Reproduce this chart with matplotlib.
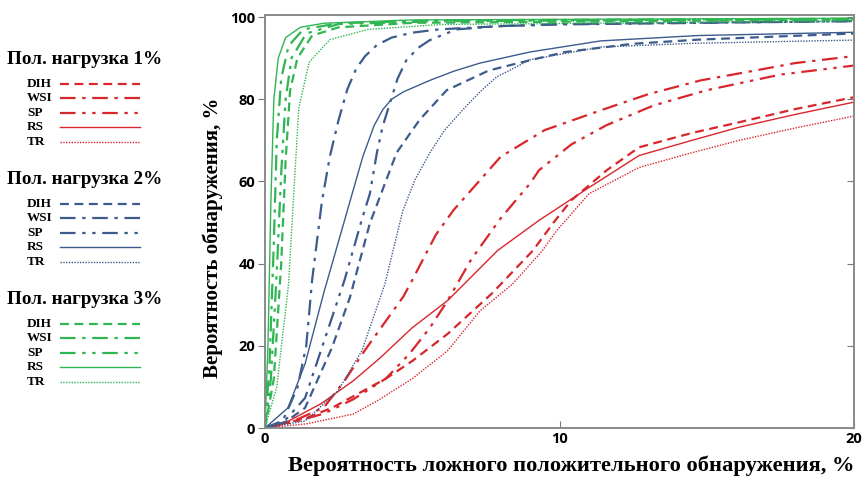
import matplotlib.pyplot as plt
from matplotlib.lines import Line2D

# x - false positive rate, %; y - detection rate, %
# load 1% (red)
r_dih_x = [0, 1.4, 2.3, 4.1, 5.0, 6.2, 7.7, 9.1, 9.8, 10.4, 11.6, 12.7, 14.5, 16.1, 18, 20]
r_dih_y = [0, 2.4, 5.0, 12.0, 16.3, 22.9, 32.7, 43.2, 50, 55.4, 62.7, 68.3, 71.8, 74.4, 77.6, 80.5]
r_wsi_x = [0, 1.0, 2.0, 2.7, 3.4, 4.1, 4.7, 5.0, 5.8, 6.4, 8.0, 9.5, 11.4, 13, 14.8, 16.5, 18, 20]
r_wsi_y = [0, 1.8, 5.0, 11.5, 19.0, 26.0, 32.0, 36.0, 47.0, 53.0, 66.0, 72.5, 77.3, 81.2, 84.6, 86.8, 88.8, 90.5]
r_sp_x = [0, 1.0, 2.0, 3.0, 4.1, 4.9, 5.6, 6.2, 7.0, 8.0, 9.0, 9.3, 10.4, 11.6, 13.2, 15, 17.5, 20]
r_sp_y = [0, 1.5, 3.5, 7.0, 12.0, 18.0, 24.4, 31.0, 41.0, 51, 59.5, 62.7, 69, 73.7, 78.5, 82.2, 86.0, 88.2]
r_rs_x = [0, 0.8, 1.9, 3.0, 3.9, 5.0, 6.2, 7.9, 9.3, 11.0, 12.7, 14.5, 16.1, 18, 20]
r_rs_y = [0, 1.7, 5.9, 11.5, 17.0, 24.4, 31.0, 43.2, 50.5, 58.5, 66.3, 70, 73.2, 76.3, 79.3]
r_tr_x = [0, 1.4, 3.0, 3.9, 5.0, 6.2, 7.3, 8.4, 9.4, 9.9, 11.0, 12.7, 14.5, 16.1, 18, 20]
r_tr_y = [0, 1.0, 3.4, 7.0, 12.0, 18.8, 28.5, 35.0, 43.0, 48, 57.0, 63.4, 67, 70.0, 73, 75.9]

# load 2% (blue)
b_dih_x = [0, 0.7, 1.36, 2.27, 2.88, 3.56, 4.47, 5.25, 6.17, 7.6, 9.0, 10.2, 12.5, 14.7, 20]
b_dih_y = [0, 1.5, 4.9, 19.5, 31.7, 49.8, 67.0, 75.0, 82.2, 87.0, 89.5, 91.5, 93.5, 94.5, 96.0]
b_wsi_x = [0, 0.6, 1.1, 1.4, 1.6, 1.93, 2.2, 2.5, 2.8, 3.1, 3.4, 3.8, 4.3, 5.0, 5.9, 8, 10, 20]
b_wsi_y = [0, 1.7, 9.8, 20.0, 36.0, 55.0, 66.0, 75.0, 82.5, 87.5, 90.5, 93.2, 95.0, 96.2, 97.0, 97.8, 98.2, 99.0]
b_sp_x = [0, 0.7, 1.36, 1.93, 2.7, 3.3, 3.56, 3.8, 4.0, 4.24, 4.5, 4.8, 5.2, 5.6, 6.5, 8, 10, 20]
b_sp_y = [0, 2.0, 7.3, 19.5, 36.0, 51.0, 57.0, 67.0, 73.5, 79.0, 85.0, 89.5, 92.5, 94.4, 97.0, 97.8, 98.3, 99.0]
b_rs_x = [0, 0.78, 1.36, 2.0, 2.6, 3.32, 3.7, 4.0, 4.3, 4.7, 5.6, 6.4, 7.3, 9.0, 11.4, 14.7, 20]
b_rs_y = [0, 4.9, 15.6, 33.0, 48.0, 66.0, 73.5, 77.5, 80.0, 81.8, 84.6, 86.8, 88.8, 91.5, 94.2, 95.5, 96.3]
b_tr_x = [0, 1.36, 2.47, 3.29, 4.07, 4.68, 5.1, 5.6, 6.1, 6.7, 7.3, 7.86, 9.0, 11.4, 14.5, 20]
b_tr_y = [0, 1.7, 9.0, 18.8, 35.0, 52.9, 60.5, 67.0, 72.5, 77.3, 81.8, 85.4, 89.6, 92.7, 93.6, 94.4]

# load 3% (green)
g_dih_x = [0, 0.3, 0.55, 0.7, 0.85, 1.1, 1.6, 2.5, 5, 20]
g_dih_y = [0, 12, 40, 65, 82, 90, 95.5, 97.5, 98.6, 99.4]
g_wsi_x = [0, 0.15, 0.3, 0.4, 0.55, 0.8, 1.3, 2.5, 6, 20]
g_wsi_y = [0, 15, 45, 70, 85, 93, 97, 98.5, 99.2, 99.6]
g_sp_x = [0, 0.2, 0.4, 0.55, 0.7, 0.9, 1.4, 2.5, 6, 20]
g_sp_y = [0, 12, 38, 62, 80, 90, 96, 98.3, 99, 99.5]
g_rs_x = [0, 0.1, 0.2, 0.3, 0.45, 0.7, 1.2, 2, 5, 20]
g_rs_y = [0, 20, 55, 80, 90, 95, 97.5, 98.5, 99.3, 99.7]
g_tr_x = [0, 0.4, 0.8, 1.0, 1.15, 1.5, 2.2, 3.5, 6, 20]
g_tr_y = [0, 10, 35, 60, 78, 89, 94.5, 97, 98.2, 99]

names = ['DIH', 'WSI', 'SP', 'RS', 'TR']
titles = ['Пол. нагрузка 1%', 'Пол. нагрузка 2%', 'Пол. нагрузка 3%']
colors = ['#d8262c', '#3d5b8c', '#2fb552']

styles = {
    'DIH': dict(ls=(0, (4, 2.5)), lw=1.6),
    'WSI': dict(ls=(0, (7, 3, 1.5, 3)), lw=1.6),
    'SP': dict(ls=(0, (7, 3, 1.5, 3, 1.5, 3)), lw=1.6),
    'RS': dict(ls='-', lw=1.0),
    'TR': dict(ls=(0, (1, 1)), lw=1.0),
}

groups = [
    [(r_dih_x, r_dih_y), (r_wsi_x, r_wsi_y), (r_sp_x, r_sp_y), (r_rs_x, r_rs_y), (r_tr_x, r_tr_y)],
    [(b_dih_x, b_dih_y), (b_wsi_x, b_wsi_y), (b_sp_x, b_sp_y), (b_rs_x, b_rs_y), (b_tr_x, b_tr_y)],
    [(g_dih_x, g_dih_y), (g_wsi_x, g_wsi_y), (g_sp_x, g_sp_y), (g_rs_x, g_rs_y), (g_tr_x, g_tr_y)],
]

W, H = 863, 478
fig = plt.figure(figsize=(W / 100, H / 100), dpi=100)
ax = fig.add_axes([265 / W, 1 - 428 / H, 589 / W, 413 / H])

for color, series in zip(colors, groups):
    for name, (x, y) in zip(names, series):
        ax.plot(x, y, color=color, **styles[name])

ax.set_xlim(0, 20)
ax.set_ylim(0, 100.5)
ax.set_xticks([0, 10, 20])
ax.set_yticks([0, 20, 40, 60, 80, 100])
for s in ax.spines.values():
    s.set_color('#8a8a8a')
    s.set_linewidth(1.4)
ax.tick_params(axis='x', direction='in', length=5, color='#777777', pad=3)
ax.tick_params(axis='y', direction='out', length=5, color='#777777', pad=2)
right = ax.secondary_yaxis('right')
right.set_yticks([0, 20, 40, 60, 80, 100])
right.tick_params(direction='in', length=5, color='#777777', labelright=False)
right.spines['right'].set_visible(False)
for lab in ax.get_xticklabels() + ax.get_yticklabels():
    lab.set_fontfamily('Open Sans')
    lab.set_fontweight('bold')
    lab.set_fontsize(10.5)

serif = 'Liberation Serif'
ax.set_xlabel('Вероятность ложного положительного обнаружения, %',
              fontfamily=serif, fontweight='bold', fontsize=16.2)
ax.xaxis.set_label_coords(0.52, -0.066)
ax.set_ylabel('Вероятность обнаружения, %', fontfamily=serif, fontweight='bold', fontsize=15)
ax.yaxis.set_label_coords(-0.072, 0.46)

# legend drawn by hand on the left
for g, (title, color) in enumerate(zip(titles, colors)):
    ty = 60 + g * 120
    fig.text(85 / W, 1 - ty / H, title, ha='center', va='center',
             fontfamily=serif, fontweight='bold', fontsize=13.8)
    for i, name in enumerate(names):
        ry = ty + 24 + i * 14.4
        fig.text(27 / W, 1 - ry / H, name, ha='left', va='center',
                 fontfamily=serif, fontweight='bold', fontsize=9.5)
        fig.add_artist(Line2D([60 / W, 140 / W], [1 - ry / H, 1 - ry / H],
                              color=color, **styles[name]))

fig.savefig('out.png', dpi=100)
